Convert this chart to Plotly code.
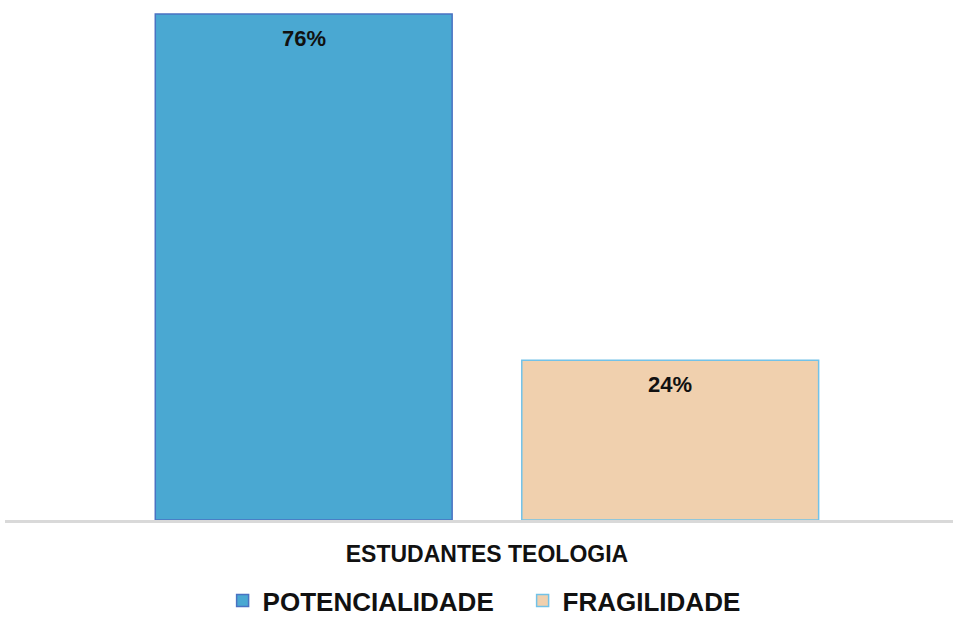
import plotly.graph_objects as go

categories = ["ESTUDANTES TEOLOGIA"]
series_names = ["POTENCIALIDADE", "FRAGILIDADE"]
series_values = [[76], [24]]
value_labels = ["76%", "24%"]

fill_colors = ["#4AA8D2", "#F0D0AE"]
line_colors = ["#4A72C2", "#72C2E8"]

FONT = "Liberation Sans, Arial, sans-serif"
bargap = 0.2268
bargroupgap = 0.19

fig = go.Figure()
for name, vals, fc, lc in zip(series_names, series_values, fill_colors, line_colors):
    fig.add_trace(go.Bar(
        x=categories, y=vals, name=name,
        marker=dict(color=fc, line=dict(color=lc, width=1.5)),
        hoverinfo="skip",
    ))

# value labels inside the top of each bar
n = len(series_names)
slot = (1 - bargap) / n
for i, (vals, lab) in enumerate(zip(series_values, value_labels)):
    xc = -(1 - bargap) / 2 + slot * (i + 0.5)
    fig.add_annotation(
        x=xc, y=vals[0], xref="x", yref="y", text=lab, showarrow=False,
        yanchor="top", yshift=-10,
        font=dict(family=FONT, size=22, color="#111111", weight="bold"),
    )

fig.update_layout(
    width=953, height=618,
    margin=dict(l=5, r=0, t=0, b=98, autoexpand=False),
    paper_bgcolor="white", plot_bgcolor="white",
    barmode="group", bargap=bargap, bargroupgap=bargroupgap,
    showlegend=True,
    legend=dict(
        orientation="h", x=0.546, xanchor="center", y=-0.2, yanchor="bottom",
        font=dict(family=FONT, size=26, color="#111111", weight="bold"),
        itemwidth=30, entrywidth=255,
    ),
    xaxis=dict(
        type="category", range=[-0.5084, 0.4916],
        showline=True, linecolor="#D9D9D9", linewidth=2.5,
        showgrid=False, zeroline=False, ticks="",
        ticklabelstandoff=12,
        tickfont=dict(family=FONT, size=23, color="#111111", weight="bold"),
    ),
    yaxis=dict(range=[0, 78.1], visible=False, showgrid=False, zeroline=False),
)

fig.write_html("out.html", config={"displayModeBar": False},
               post_script="document.body.style.margin='0';")
